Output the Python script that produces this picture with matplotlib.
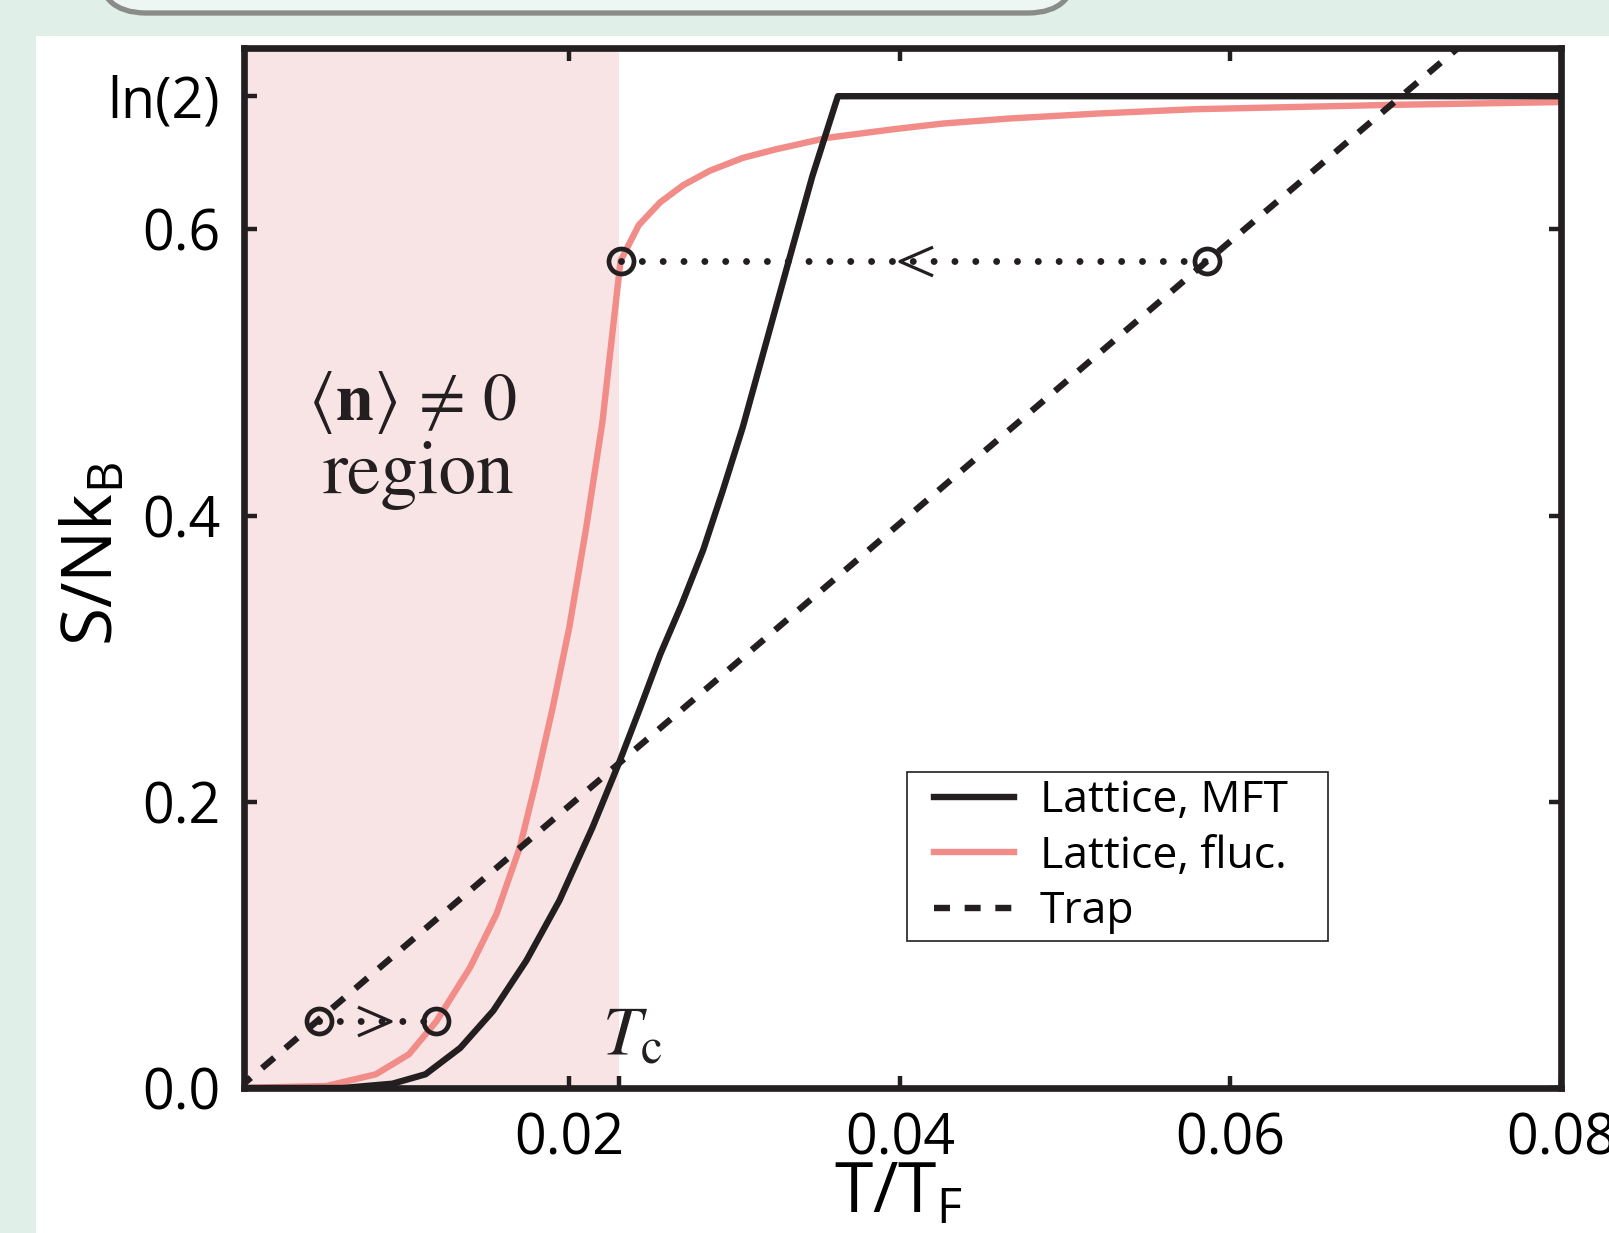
import numpy as np
import matplotlib.pyplot as plt
from matplotlib.path import Path
from matplotlib.patches import Rectangle, FancyBboxPatch
from matplotlib.transforms import IdentityTransform
from matplotlib.lines import Line2D
from matplotlib.legend_handler import HandlerLine2D

plt.rcParams['font.family'] = ['Open Sans', 'DejaVu Sans']
plt.rcParams['mathtext.fontset'] = 'custom'
plt.rcParams['mathtext.rm'] = 'Open Sans'
plt.rcParams['mathtext.it'] = 'Open Sans:italic'
plt.rcParams['mathtext.bf'] = 'Open Sans:bold'

# ─── Data ──────────────────────────────────────────────────────────────────────
T_c = 0.0230
LN2 = np.log(2)

T_mft = [0.0, 0.0063, 0.0093, 0.0113, 0.0134, 0.0154, 0.0174, 0.0194, 0.0214,
         0.0230, 0.0243, 0.0255, 0.0268, 0.0281, 0.0293, 0.0305, 0.0333, 0.0347,
         0.03625, 0.080]
S_mft = [0.0, 0.0, 0.003, 0.0096, 0.028, 0.054, 0.089, 0.131, 0.182,
         0.227, 0.266, 0.303, 0.338, 0.376, 0.418, 0.462, 0.579, 0.637,
         0.6931, 0.6931]

T_fluc = [0.0, 0.0053, 0.0083, 0.0103, 0.01195, 0.0140, 0.0156, 0.0170, 0.0180,
          0.0190, 0.0200, 0.0210, 0.0220, 0.02265, 0.0231, 0.0242, 0.0255, 0.0269,
          0.0285, 0.0305, 0.0325, 0.0356, 0.0396, 0.0426, 0.0466, 0.0520, 0.0578,
          0.0695, 0.080]
S_fluc = [0.0, 0.0014, 0.0096, 0.0236, 0.0465, 0.0843, 0.1217, 0.168, 0.215,
          0.266, 0.322, 0.390, 0.465, 0.532, 0.578, 0.603, 0.619, 0.631,
          0.641, 0.650, 0.656, 0.664, 0.670, 0.674, 0.6775, 0.681, 0.684,
          0.687, 0.689]

T_trap = [0.0, 0.0586, 0.0745]
S_trap = [0.0, 0.578, 0.734]

# isentropic paths: trap point -> lattice point
path_low_T = [0.00484, 0.01195]
path_low_S = [0.0470, 0.0470]
path_high_T = [0.0231, 0.0586]
path_high_S = [0.578, 0.578]
arrow_low = (0.0082, 0.0470)     # ">" head
arrow_high = (0.0410, 0.578)     # "<" head

xticks = [0.02, 0.04, 0.06, 0.08]
xtick_labels = ['0.02', '0.04', '0.06', '0.08']
yticks = [0.0, 0.2, 0.4, 0.6, LN2]
ytick_labels = ['0.0', '0.2', '0.4', '0.6', 'ln(2)']

# ─── Style ─────────────────────────────────────────────────────────────────────
BLACK = '#231f20'
PINK = '#f28c89'
SHADE = '#f9e4e5'
LW = 4.6
W, H, DPI = 1609, 1233, 100

fig = plt.figure(figsize=(W / DPI, H / DPI), dpi=DPI, facecolor='#e0efe8')

# slide decorations: white panel and the rounded title box cut at the top
fig.add_artist(Rectangle((36, 0), W - 36, H - 36, transform=IdentityTransform(),
                         facecolor='white', edgecolor='none', zorder=0))
fig.add_artist(FancyBboxPatch((98, H - 13), 978, 120, transform=IdentityTransform(),
                              boxstyle='round,pad=0,rounding_size=48',
                              facecolor='#eef6f3', edgecolor='#8a8c8a', lw=3.8, zorder=0))

ax = fig.add_axes([243.7 / W, 1 - 1088 / H, (1561 - 243.7) / W, (1088 - 47.7) / H])
ax.set_facecolor('white')

ax.axvspan(0, T_c, color=SHADE, lw=0, zorder=0)

l_fluc, = ax.plot(T_fluc, S_fluc, color=PINK, lw=LW, label='Lattice, fluc.', zorder=2)
l_mft, = ax.plot(T_mft, S_mft, color=BLACK, lw=LW, label='Lattice, MFT', zorder=3)
l_trap, = ax.plot(T_trap, S_trap, color=BLACK, lw=LW, ls=(0, (2.5, 2.3)), label='Trap', zorder=4)

# dotted arrows with open circles at ends
dot_style = dict(color=BLACK, lw=5.0, ls=(0, (0.001, 3.0)), dash_capstyle='round', zorder=5)
ax.plot(path_low_T, path_low_S, **dot_style)
ax.plot(path_high_T, path_high_S, **dot_style)
ring = dict(ls='none', marker='o', ms=18, mfc='none', mec=BLACK, mew=3.4, zorder=6)
ax.plot(path_low_T, path_low_S, **ring)
ax.plot(path_high_T, path_high_S, **ring)

head_left = Path([(1, 0.87), (-1, 0), (1, -0.87)], [Path.MOVETO, Path.LINETO, Path.LINETO])
head_right = Path([(-1, 0.87), (1, 0), (-1, -0.87)], [Path.MOVETO, Path.LINETO, Path.LINETO])
ax.plot(*arrow_low, marker=head_right, ms=23.8, mfc='none', mec=BLACK, mew=2.3, zorder=6)
ax.plot(*arrow_high, marker=head_left, ms=23.8, mfc='none', mec=BLACK, mew=2.3, zorder=6)

# annotations
ax.text(0.01054, 0.4666, r'$\langle\mathbf{n}\rangle\,\neq\,0$', math_fontfamily='stix',
        fontsize=49, ha='center', va='baseline', color=BLACK)
ax.text(0.01087, 0.4161, 'region', family='STIXGeneral',
        fontsize=54, ha='center', va='baseline', color=BLACK)
ax.text(0.02200, 0.0238, r'$T_{\mathrm{c}}$', math_fontfamily='stix',
        fontsize=50, ha='left', va='baseline', color=BLACK)

# axes, ticks
ax.set_xlim(0.0003, 0.08)
ax.set_ylim(0, 0.727)
ax.set_xticks(xticks, xtick_labels)
ax.set_xticks([T_c], minor=True)
ax.set_yticks(yticks, ytick_labels)
ax.tick_params(which='both', direction='in', top=True, right=True, length=9,
               width=3.2, color=BLACK, labelsize=40, pad=17)
ax.tick_params(which='minor', top=False)
for sp in ax.spines.values():
    sp.set_linewidth(4.8)
    sp.set_color(BLACK)

ax.set_xlabel(r'T/T$_{\mathrm{F}}$', fontsize=50)
ax.xaxis.set_label_coords(0.497, -0.069)
ax.set_ylabel(r'S/Nk$_{\mathrm{B}}$', fontsize=50, va='center')
ax.yaxis.set_label_coords(-0.1127, 0.513)

# legend: fixed frame, handles inset from the left edge
leg_box = (907.2 / W, 1 - 942 / H, 420.7 / W, 170 / H)
leg = ax.legend(handles=[l_mft, l_fluc, l_trap], loc='upper left', mode='expand',
                bbox_to_anchor=leg_box, bbox_transform=fig.transFigure,
                borderaxespad=0, fontsize=32, handlelength=2.25,
                handletextpad=0.59, labelspacing=0.25, borderpad=0.15,
                fancybox=False, framealpha=1,
                handler_map={Line2D: HandlerLine2D(xpad=0.45)})
leg.get_frame().set_edgecolor(BLACK)
leg.get_frame().set_linewidth(1.2)

fig.savefig('out.png', dpi=DPI, facecolor=fig.get_facecolor())
